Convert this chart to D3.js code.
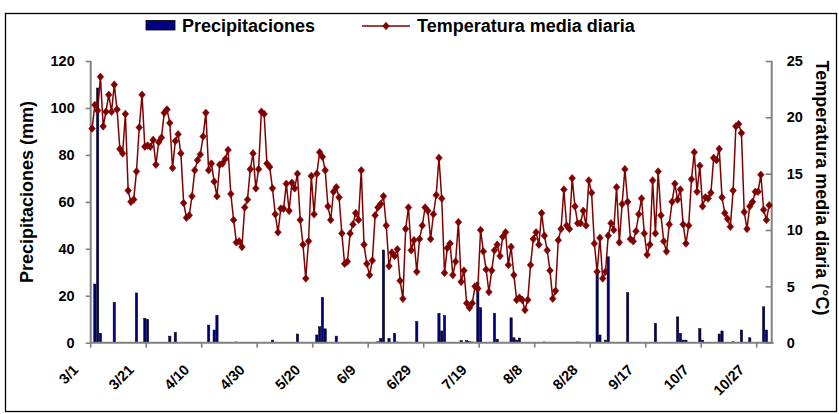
<!DOCTYPE html>
<html>
<head>
<meta charset="utf-8">
<script src="https://cdn.jsdelivr.net/npm/d3@7"></script>
<style>
  html, body { margin: 0; padding: 0; background: #fff; }
  svg { display: block; }
  text { font-family: "Liberation Sans", Arial, sans-serif; font-weight: bold; fill: #000; }
</style>
</head>
<body>
<svg id="chart" width="839" height="414"></svg>
<script>
// ---------- DATA ----------
// Daily categories: 3/1 .. 10/31 (245 days)
const days = d3.timeDay.range(new Date(2001, 2, 1), new Date(2001, 10, 1));
const categories = days.map(d => (d.getMonth() + 1) + "/" + d.getDate());

const tickLabels = ["3/1","3/21","4/10","4/30","5/20","6/9","6/29","7/19","8/8","8/28","9/17","10/7","10/27"];

// Precipitaciones (mm), one value per day
const precipitaciones = [
  0,25.0,108.5,4.0,0,0,0,0,17.2,0,
  0,0,0,0,0,0,21.2,0,0,10.4,
  9.9,0,0,0,0,0,0,0,2.8,0,
  4.4,0,0,0,0,0,0,0,0,0,
  0,0,7.5,0,5.4,11.7,0,0,0,0,
  0,0,0.3,0,0,0,0,0,0,0,
  0,0,0,0,0,1.1,0,0,0,0,
  0,0,0,0,3.7,0,0,0,0,0,
  0,3.3,6.8,19.3,5.9,0,0,0,2.8,0,
  0,0,0,0,0,0,0,0,0,0,
  0,0,0,0.4,1.8,39.5,0,1.8,0,4.0,
  0.3,0,0,0,0,0,0,9.0,0,0,
  0,0,0,0,0,12.5,5.0,11.6,0,0,
  0,0,0,0.9,0,0.9,0.5,0.3,0,25.8,
  14.9,0,0,0,0,12.5,1.5,0,0,0,
  0,10.6,2.1,1.1,2.0,0,0,0,0,0,
  0,0,0,0.3,0,0,0,0,0,0,
  0,0,0,0,0,0.3,0,0,0,0,
  0,0,30.3,3.3,0,1.1,36.6,0,0,0,
  0,0,0,21.3,0,0,0,0,0,0,
  0,0,0,8.2,0,0,0,0,0,0,
  0,11.0,4.0,1.1,1.1,0,0,0,0,6.0,
  1.1,0,0,0,0,0,3.7,5.0,0,0,
  0,0.4,0,0,5.4,0,0,2.1,0,0,
  0,0,15.3,5.4,0
];

// Temperatura media diaria (°C), one value per day
const temperatura = [
  19.0,21.1,20.6,23.6,19.2,20.5,22.0,20.5,22.9,20.7,
  17.2,16.8,20.3,13.5,12.5,12.7,15.2,19.1,22.0,17.4,
  17.5,17.4,18.0,15.8,17.8,18.2,20.4,20.7,19.5,15.5,
  17.9,18.5,16.8,12.4,11.1,11.3,13.0,15.3,16.2,16.7,
  18.3,20.4,15.3,15.9,14.3,13.0,15.8,15.9,16.3,17.1,
  13.2,10.9,8.9,9.0,8.5,12.0,12.7,15.4,16.8,13.7,
  15.4,20.5,20.3,15.9,15.6,13.7,11.4,9.8,11.9,11.9,
  14.1,11.7,14.2,13.7,15.0,10.9,8.7,5.7,9.0,14.8,
  11.4,15.0,16.9,16.5,15.3,12.1,10.9,13.4,13.8,12.9,
  9.7,7.0,7.2,9.7,10.5,11.5,10.9,15.3,8.7,7.0,
  6.0,7.3,11.3,12.0,12.3,13.0,10.4,6.8,8.0,7.7,
  8.3,5.5,3.9,10.1,12.0,8.2,9.1,6.3,9.2,10.4,
  12.0,11.7,9.2,11.4,13.1,16.4,12.8,6.2,8.4,8.8,
  6.0,7.2,10.7,5.4,6.4,3.5,3.1,3.5,5.0,4.8,
  10.0,8.1,6.5,4.5,6.4,8.2,8.7,7.7,9.4,9.8,
  6.9,8.5,6.0,3.8,4.0,3.8,2.9,3.8,6.9,9.2,
  9.8,8.7,11.5,9.5,8.2,6.4,3.9,4.6,9.1,10.1,
  13.6,10.4,10.1,14.6,12.1,10.6,10.6,11.7,10.4,14.4,
  13.3,8.8,6.3,9.3,5.7,6.3,9.5,10.6,10.0,13.8,
  8.9,12.3,15.4,12.5,9.2,9.0,9.9,11.4,12.8,9.7,
  7.8,8.7,14.4,9.7,15.2,11.3,9.0,8.1,10.5,12.5,
  14.1,12.7,13.6,10.5,8.8,10.4,14.5,16.9,13.4,15.7,
  12.1,12.9,12.8,13.3,16.4,16.2,17.2,12.9,11.5,11.0,
  10.3,13.5,19.2,19.4,18.6,11.6,10.1,12.1,12.5,13.4,
  13.4,14.9,11.8,10.9,12.2
];

const precipTicks = [0, 20, 40, 60, 80, 100, 120];
const tempTicks = [0, 5, 10, 15, 20, 25];

// ---------- LAYOUT ----------
const svg = d3.select("#chart");
const plot = { left: 90.7, right: 771.7, top: 61, bottom: 342.7 };
const axisColor = "#808080";
const barColor = "#000080";
const lineColor = "#800000";

// outer frame
svg.append("rect")
  .attr("x", 5.5).attr("y", 13.5).attr("width", 831).attr("height", 398)
  .attr("fill", "none").attr("stroke", "#000").attr("stroke-width", 1.3);

const x = d3.scaleBand().domain(categories).range([plot.left, plot.left + categories.length * 2.775]).padding(0);
const yP = d3.scaleLinear().domain([0, 120]).range([plot.bottom, plot.top]);
const yT = d3.scaleLinear().domain([0, 25]).range([plot.bottom, plot.top]);
const bw = x.bandwidth();
const barW = 2.3;

// bars
svg.append("g").selectAll("rect")
  .data(categories.map((c, i) => ({ c, v: precipitaciones[i] })).filter(d => d.v > 0))
  .join("rect")
  .attr("x", d => x(d.c) + (bw - barW) / 2)
  .attr("y", d => yP(d.v))
  .attr("width", barW)
  .attr("height", d => Math.max(0.6, plot.bottom - yP(d.v)))
  .attr("fill", barColor)
  .attr("stroke", "#000")
  .attr("stroke-width", 0.5);

// axes (D3 axes, restyled)
const leftAxis = svg.append("g").attr("transform", `translate(${plot.left},0)`)
  .call(d3.axisLeft(yP).tickValues(precipTicks).tickSize(5).tickPadding(11).tickFormat(d3.format("d")));
const rightAxis = svg.append("g").attr("transform", `translate(${plot.right},0)`)
  .call(d3.axisRight(yT).tickValues(tempTicks).tickSize(0).tickPadding(15).tickFormat(d3.format("d")));
rightAxis.selectAll(".tick").append("line").attr("x1", -6).attr("x2", 0);

const bottomAxis = svg.append("g").attr("transform", `translate(0,${plot.bottom})`)
  .call(d3.axisBottom(x).tickValues(tickLabels).tickSize(5).tickFormat(d => d));
bottomAxis.selectAll(".tick").attr("transform", d => `translate(${x(d)},0)`);

[leftAxis, rightAxis, bottomAxis].forEach(g => {
  g.select(".domain").attr("stroke", axisColor).attr("stroke-width", 2);
  g.selectAll(".tick line").attr("stroke", axisColor).attr("stroke-width", 1.6);
  g.selectAll(".tick text").style("font-size", "14.5px").style("font-weight", "bold")
    .attr("font-family", null).attr("fill", "#000");
});
bottomAxis.selectAll(".tick text")
  .attr("text-anchor", "end")
  .attr("dy", null)
  .attr("y", 0)
  .attr("transform", "translate(-11.5,28) rotate(-45)")
  .style("font-size", "14.5px");
leftAxis.select(".domain").attr("d", `M0,${plot.top}V${plot.bottom}`);
rightAxis.select(".domain").attr("d", `M0,${plot.top}V${plot.bottom}`);
bottomAxis.select(".domain").attr("d", `M${plot.left},0H${plot.right + 2}`);

// temperature line
const line = d3.line().x((d, i) => x(categories[i]) + bw / 2).y(d => yT(d));
svg.append("path").datum(temperatura)
  .attr("d", line).attr("fill", "none").attr("stroke", lineColor).attr("stroke-width", 1.5);

const diamond = "M0,-3.8L3.3,0L0,3.8L-3.3,0Z";
svg.append("g").selectAll("path")
  .data(temperatura)
  .join("path")
  .attr("transform", (d, i) => `translate(${x(categories[i]) + bw / 2},${yT(d)})`)
  .attr("d", diamond)
  .attr("fill", lineColor)
  .attr("stroke", lineColor)
  .attr("stroke-width", 0.6);

// axis titles
svg.append("text")
  .attr("transform", "translate(32.5,192) rotate(-90)")
  .attr("text-anchor", "middle")
  .style("font-size", "18px")
  .text("Precipitaciones (mm)");
svg.append("text")
  .attr("transform", "translate(816,188) rotate(90)")
  .attr("text-anchor", "middle")
  .style("font-size", "18px")
  .text("Temperatura media diaria (°C)");

// legend
const lg = svg.append("g");
lg.append("rect").attr("x", 146).attr("y", 20.5).attr("width", 29).attr("height", 9.5)
  .attr("fill", barColor).attr("stroke", "#000").attr("stroke-width", 0.8);
lg.append("text").attr("x", 182).attr("y", 32).style("font-size", "18px").text("Precipitaciones");
lg.append("line").attr("x1", 362).attr("x2", 410).attr("y1", 26).attr("y2", 26)
  .attr("stroke", lineColor).attr("stroke-width", 1.5);
lg.append("path").attr("transform", "translate(386,26)").attr("d", diamond)
  .attr("fill", lineColor).attr("stroke", lineColor).attr("stroke-width", 0.6);
lg.append("text").attr("x", 417).attr("y", 32).style("font-size", "18px").text("Temperatura media diaria");
</script>
</body>
</html>
